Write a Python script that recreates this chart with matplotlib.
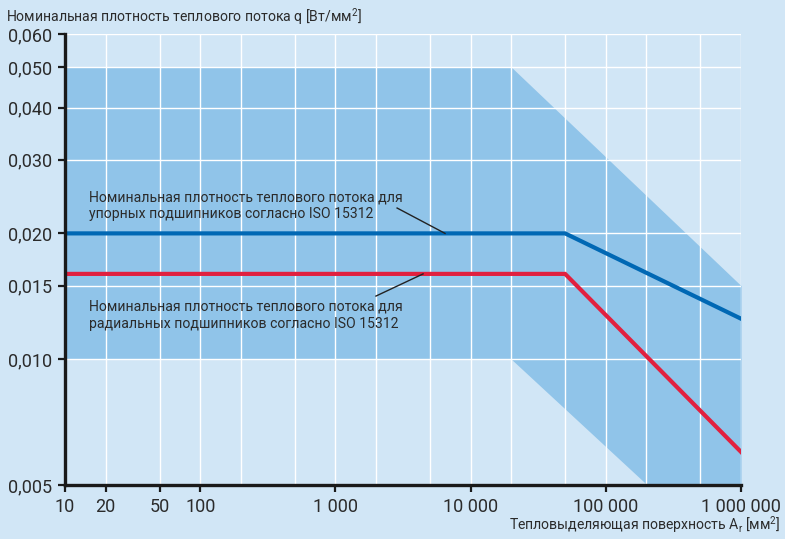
"""Nominal heat flow density vs heat emitting surface (ISO 15312)."""
import matplotlib.pyplot as plt
from matplotlib.ticker import FixedLocator, NullFormatter

# Data
band_x = [10, 20000, 1000000]
band_upper = [0.05, 0.05, 0.015]
band_lower = [0.01, 0.01, 0.0031]

thrust_x = [10, 50000, 1000000]
thrust_q = [0.020, 0.020, 0.0125]

radial_x = [10, 50000, 1000000]
radial_q = [0.016, 0.016, 0.006]

x_ticks = [10, 20, 50, 100, 1000, 10000, 100000, 1000000]
x_labels = ["10", "20", "50", "100", "1 000", "10 000", "100 000", "1 000 000"]
x_grid = [20, 50, 100, 200, 500, 1000, 2000, 5000, 10000, 20000, 50000,
          100000, 200000, 500000, 1000000]
y_ticks = [0.005, 0.010, 0.015, 0.020, 0.030, 0.040, 0.050, 0.060]
y_labels = ["0,005", "0,010", "0,015", "0,020", "0,030", "0,040", "0,050", "0,060"]

BG = "#d1e6f6"
BAND = "#90c4e9"
BLUE = "#0068b4"
RED = "#e1203f"
TEXT = "#2b2b2b"

plt.rcParams["font.family"] = ["Roboto", "DejaVu Sans"]
plt.rcParams["mathtext.fontset"] = "custom"
plt.rcParams["mathtext.rm"] = "Roboto"
plt.rcParams["mathtext.it"] = "Roboto"

fig = plt.figure(figsize=(7.85, 5.39), dpi=100, facecolor=BG)
ax = fig.add_axes([65 / 785, 1 - 485 / 539, (741 - 65) / 785, (485 - 34) / 539])
ax.set_facecolor(BG)
ax.set_xscale("log")
ax.set_yscale("log")
ax.set_xlim(10, 1000000)
ax.set_ylim(0.005, 0.060)

ax.fill_between(band_x, band_lower, band_upper, color=BAND, lw=0, zorder=1)

for gx in x_grid:
    ax.axvline(gx, color="white", lw=1.0, zorder=1.5)
for gy in y_ticks[1:]:
    ax.axhline(gy, color="white", lw=1.0, zorder=1.5)

ax.plot(thrust_x, thrust_q, color=BLUE, lw=3, solid_joinstyle="miter", zorder=3)
ax.plot(radial_x, radial_q, color=RED, lw=3, solid_joinstyle="miter", zorder=3)

# Annotations
ax.text(15, 0.0254, "Номинальная плотность теплового потока для\n"
        "упорных подшипников согласно ISO 15312",
        fontsize=10.1, color=TEXT, va="top", ha="left", linespacing=1.25, zorder=4)
ax.plot([2860, 6470], [0.0230, 0.020], color="#222222", lw=1, zorder=4)
ax.text(15, 0.01386, "Номинальная плотность теплового потока для\n"
        "радиальных подшипников согласно ISO 15312",
        fontsize=10.1, color=TEXT, va="top", ha="left", linespacing=1.25, zorder=4)
ax.plot([1995, 4450], [0.01416, 0.016], color="#222222", lw=1, zorder=4)

# Axes styling
for side in ("top", "right"):
    ax.spines[side].set_visible(False)
for side in ("left", "bottom"):
    ax.spines[side].set_linewidth(2.4)
    ax.spines[side].set_color("#1a1a1a")
    ax.spines[side].set_zorder(5)

ax.xaxis.set_major_locator(FixedLocator(x_ticks))
ax.xaxis.set_minor_locator(FixedLocator([]))
ax.set_xticklabels(x_labels)
ax.xaxis.set_minor_formatter(NullFormatter())
ax.yaxis.set_major_locator(FixedLocator(y_ticks))
ax.yaxis.set_minor_locator(FixedLocator([]))
ax.set_yticklabels(y_labels)
ax.yaxis.set_minor_formatter(NullFormatter())
ax.tick_params(length=5, width=1.6, color="#1a1a1a", labelsize=13,
               labelcolor=TEXT, pad=4)

fig.text(6 / 785, 1 - 22 / 539, "Номинальная плотность теплового потока q [Вт/мм$^2$]",
         fontsize=10.1, color=TEXT, ha="left", va="baseline")
fig.text(780 / 785, 1 - 530 / 539, "Тепловыделяющая поверхность A$_\\mathrm{r}$ [мм$^2$]",
         fontsize=10.1, color=TEXT, ha="right", va="baseline")

fig.savefig("out.png", dpi=100, facecolor=BG)
